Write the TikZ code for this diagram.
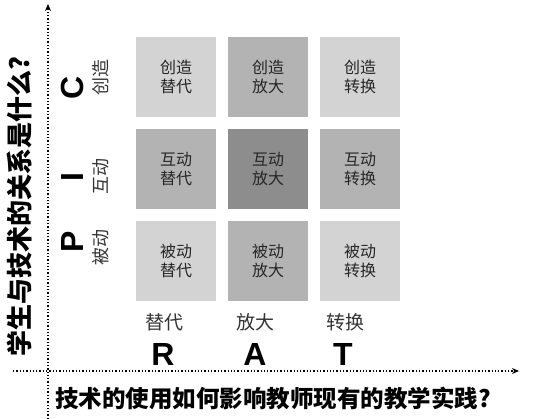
\documentclass[tikz,border=0pt]{standalone}
\usepackage{fontspec}
\setmainfont{Noto Sans CJK SC}
\newfontfamily\latinbold{Liberation Sans}[Scale=1.0]
\usetikzlibrary{arrows.meta,positioning}
\definecolor{cellLight}{HTML}{D3D3D3}
\definecolor{cellMid}{HTML}{B3B3B3}
\definecolor{cellDark}{HTML}{8D8D8D}

\begin{document}
\begin{tikzpicture}[
  x=1pt, y=-1pt,
  cell/.style={minimum size=80pt, inner sep=0pt, align=center, text=black!85,
    font=\fontsize{16}{19}\selectfont},
  axis/.style={dotted, line width=1.3pt, -{Stealth[length=7pt,width=6pt]}},
  axistitle/.style={font=\fontsize{26}{30}\selectfont\bfseries},
  letter/.style={font=\fontsize{32}{36}\latinbold\bfseries},
  levelzh/.style={font=\fontsize{18}{20}\selectfont, text=black!80},
]
\useasboundingbox (0,0) rectangle (546,419);

% axes
\coordinate (yfoot) at (48,419);
\coordinate (ytop) at (48,4);
\coordinate (xfoot) at (13,371);
\coordinate (xtip) at (519,371);
\draw[axis] (yfoot) -- (ytop);
\draw[axis] (xfoot) -- (xtip);

% grid of cells: row 1 = C, row 2 = I, row 3 = P
\foreach \r/\rowname/\rowcol in {1/创造/C, 2/互动/I, 3/被动/P}{
  \foreach \c/\colname/\colcol in {1/替代/R, 2/放大/A, 3/转换/T}{
    \pgfmathtruncatemacro{\shade}{(\r==2 ? 1 : 0) + (\c==2 ? 1 : 0)}
    \ifcase\shade \def\fillcol{cellLight}\or \def\fillcol{cellMid}\else \def\fillcol{cellDark}\fi
    \node[cell, fill=\fillcol] (cell\rowcol\colcol) at ({176+92*(\c-1)},{77+92*(\r-1)})
      {\rowname\\\colname};
  }
}

% level labels on the left
\node[letter, rotate=90] (lvC) at (72,88) {C};
\node[levelzh, rotate=90] (zhC) at (101,78) {创造};
\node[letter, rotate=90] (lvI) at (72,177) {I};
\node[levelzh, rotate=90] (zhI) at (101,177) {互动};
\node[letter, rotate=90] (lvP) at (72,242) {P};
\node[levelzh, rotate=90] (zhP) at (101,248) {被动};

% level labels below
\node[levelzh, font=\fontsize{19}{21}\selectfont] (zhR) at (164,322) {替代};
\node[letter] (lvR) at (163,354) {R};
\node[levelzh, font=\fontsize{19}{21}\selectfont] (zhA) at (255,322) {放大};
\node[letter] (lvA) at (255,354) {A};
\node[levelzh, font=\fontsize{19}{21}\selectfont] (zhT) at (345,322) {转换};
\node[letter] (lvT) at (343,354) {T};

% axis titles
\node[axistitle, rotate=90] (ytitle) at (20,207) {学生与技术的关系是什么?};
\node[axistitle, font=\fontsize{23.5}{28}\selectfont\bfseries] (xtitle) at (273,398)
  {技术的使用如何影响教师现有的教学实践?};
\end{tikzpicture}
\end{document}
